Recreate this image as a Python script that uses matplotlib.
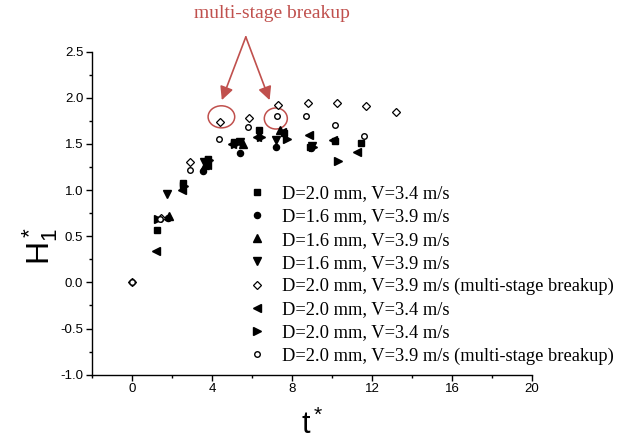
import numpy as np
import matplotlib.pyplot as plt
from matplotlib.patches import Ellipse

# data (t*, H*_1)
t_sq = [1.27, 2.54, 3.81, 5.08, 6.35, 7.62, 8.89, 10.16, 11.43]
h_sq = [0.57, 1.08, 1.34, 1.52, 1.65, 1.62, 1.47, 1.53, 1.51]

t_ci = [1.80, 3.55, 5.39, 7.18, 8.97]
h_ci = [0.70, 1.21, 1.40, 1.47, 1.46]

t_up = [1.83, 3.65, 5.55, 7.40]
h_up = [0.72, 1.27, 1.50, 1.65]

t_dn = [1.77, 3.60, 5.40, 7.18, 9.00]
h_dn = [0.96, 1.30, 1.52, 1.54, 1.48]

t_dia = [0, 1.46, 2.90, 4.39, 5.85, 7.30, 8.80, 10.25, 11.72, 13.18]
h_dia = [0, 0.70, 1.31, 1.74, 1.78, 1.92, 1.945, 1.945, 1.91, 1.85]

t_lt = [1.22, 2.50, 3.75, 5.00, 6.25, 7.50, 8.85, 10.05, 11.25]
h_lt = [0.345, 1.00, 1.27, 1.50, 1.58, 1.63, 1.60, 1.54, 1.41]

t_rt = [1.30, 2.58, 3.87, 5.16, 6.45, 7.74, 9.03, 10.32]
h_rt = [0.69, 1.04, 1.33, 1.50, 1.58, 1.55, 1.47, 1.32]

t_oc = [0, 1.42, 2.90, 4.33, 5.80, 7.25, 8.72, 10.13, 11.60]
h_oc = [0, 0.69, 1.22, 1.55, 1.68, 1.80, 1.80, 1.71, 1.59]

labels = ['D=2.0 mm, V=3.4 m/s',
          'D=1.6 mm, V=3.9 m/s',
          'D=1.6 mm, V=3.9 m/s',
          'D=1.6 mm, V=3.9 m/s',
          'D=2.0 mm, V=3.9 m/s (multi-stage breakup)',
          'D=2.0 mm, V=3.4 m/s',
          'D=2.0 mm, V=3.4 m/s',
          'D=2.0 mm, V=3.9 m/s (multi-stage breakup)']

red = '#c0504d'

fig = plt.figure(figsize=(6.38, 4.44), dpi=100)
ax = fig.add_axes([0.1442, 0.1561, 0.6897, 0.7275])

ax.plot(t_sq, h_sq, 's', color='k', ms=4, ls='none', label=labels[0])
ax.plot(t_ci, h_ci, 'o', color='k', ms=4.4, ls='none', label=labels[1])
ax.plot(t_up, h_up, '^', color='k', ms=5.2, ls='none', label=labels[2])
ax.plot(t_dn, h_dn, 'v', color='k', ms=5.2, ls='none', label=labels[3])
ax.plot(t_dia, h_dia, 'D', mfc='white', mec='k', mew=0.9, ms=3.8, ls='none', label=labels[4])
ax.plot(t_lt, h_lt, '<', color='k', ms=5.2, ls='none', label=labels[5])
ax.plot(t_rt, h_rt, '>', color='k', ms=5.2, ls='none', label=labels[6])
ax.plot(t_oc, h_oc, 'o', mfc='white', mec='k', mew=1.0, ms=4, ls='none', label=labels[7])

ax.set_xlim(-2, 20)
ax.set_ylim(-1.0, 2.5)
ax.set_xticks([0, 4, 8, 12, 16, 20])
ax.set_xticks(np.arange(-2, 21, 2), minor=True)
ax.set_yticks(np.arange(-1.0, 2.51, 0.5))
ax.set_yticks(np.arange(-1.0, 2.51, 0.25), minor=True)
ax.set_yticklabels(['%.1f' % v for v in np.arange(-1.0, 2.51, 0.5)])

for s in ['top', 'right']:
    ax.spines[s].set_visible(False)
for s in ['left', 'bottom']:
    ax.spines[s].set_linewidth(1.0)
ax.tick_params(which='major', direction='out', length=4.3, width=1.0,
               labelsize=9.5, pad=2)
ax.tick_params(which='minor', direction='out', length=2.3, width=1.0)
for lab in ax.get_xticklabels() + ax.get_yticklabels():
    lab.set_family(['Liberation Sans', 'DejaVu Sans'])

ax.set_xlabel(r'$\mathregular{t^*}$', fontsize=22,
              family=['Liberation Sans Narrow', 'Liberation Sans'], labelpad=10)
ax.set_ylabel(r'$\mathregular{H^*_1}$', fontsize=23, rotation=90, y=0.40,
              family=['Liberation Sans Narrow', 'Liberation Sans'], labelpad=0)

leg = ax.legend(loc='upper left', bbox_to_anchor=(0.354, 0.586), frameon=False,
                prop={'family': 'Liberation Serif', 'size': 13.3},
                handlelength=1.0, handletextpad=0.85, labelspacing=0.33,
                borderpad=0, borderaxespad=0, numpoints=1)

# annotation: circles and arrows
ax.add_patch(Ellipse((4.47, 1.794), 1.33, 0.239, fill=False, ec=red, lw=1.1))
ax.add_patch(Ellipse((7.19, 1.776), 1.15, 0.228, fill=False, ec=red, lw=1.1))
for tip in [(4.49, 1.975), (6.88, 1.975)]:
    ax.annotate('', xy=tip, xytext=(5.69, 2.66), annotation_clip=False,
                arrowprops=dict(arrowstyle='-|>', color=red, lw=1.2,
                                mutation_scale=20, shrinkA=0, shrinkB=0))
ax.text(7.01, 2.91, 'multi-stage breakup', color=red, fontsize=14,
        family='Liberation Serif', ha='center', va='center', clip_on=False)

fig.savefig('out.png', dpi=100)
